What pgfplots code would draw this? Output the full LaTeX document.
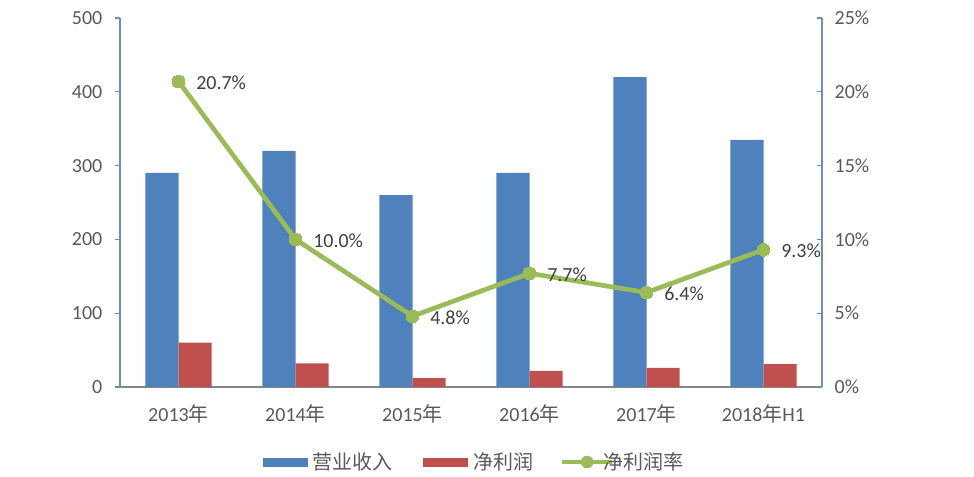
\documentclass[border=0pt]{standalone}
\usepackage{pgfplots}
\pgfplotsset{compat=1.18}
\usepackage{fontspec}
\setmainfont{Carlito}
\newfontfamily\cjk{Noto Sans CJK SC}
\definecolor{cblue}{HTML}{4F81BD}
\definecolor{cred}{HTML}{C0504D}
\definecolor{cgreen}{HTML}{9BBB59}
\definecolor{tickgray}{HTML}{595959}
\definecolor{labgray}{HTML}{404040}
\definecolor{axgray}{HTML}{868686}
\definecolor{axblue}{HTML}{6A8EC0}
\begin{document}
\begin{tikzpicture}
\useasboundingbox (0,0) rectangle (730.5pt,357.75pt);
\begin{axis}[
  at={(90pt,67.5pt)}, anchor=south west,
  scale only axis, width=526.5pt, height=276.75pt,
  xmin=-0.5, xmax=5.5, ymin=0, ymax=500,
  ytick={0,100,200,300,400,500},
  xtick={0,1,2,3,4,5},
  xticklabels={2013{\cjk 年},2014{\cjk 年},2015{\cjk 年},2016{\cjk 年},2017{\cjk 年},2018{\cjk 年}H1},
  axis x line*=bottom, axis y line*=left,
  axis line style={-},
  x axis line style={draw=axgray, line width=0.8pt},
  y axis line style={draw=axblue, line width=0.8pt},
  ytick style={draw=axblue, line width=0.8pt},
  xtick style={draw=none},
  tick align=outside, major tick length=3.75pt,
  ybar=0pt, bar width=24.75pt,
  font=\fontsize{15}{18}\selectfont,
  ticklabel style={text=tickgray, font=\fontsize{15}{18}\selectfont},
  /pgf/number format/assume math mode=true,
  xticklabel style={yshift=-6pt},
  yticklabel style={xshift=-6pt},
  clip=false,
]
\addplot[fill=cblue, draw=none] coordinates {(0,290) (1,320) (2,260) (3,290) (4,420) (5,335)};
\addplot[fill=cred, draw=none] coordinates {(0,60) (1,32) (2,12) (3,22) (4,26) (5,31)};
\end{axis}
\begin{axis}[
  at={(90pt,67.5pt)}, anchor=south west,
  scale only axis, width=526.5pt, height=276.75pt,
  xmin=-0.5, xmax=5.5, ymin=0, ymax=25,
  ytick={0,5,10,15,20,25},
  yticklabel={\pgfmathprintnumber{\tick}\%},
  axis x line=none, axis y line*=right,
  axis line style={-},
  y axis line style={draw=axblue, line width=0.8pt},
  ytick style={draw=axblue, line width=0.8pt},
  tick align=inside, major tick length=3.75pt,
  font=\fontsize{15}{18}\selectfont,
  ticklabel style={text=tickgray, font=\fontsize{15}{18}\selectfont},
  /pgf/number format/assume math mode=true,
  yticklabel style={xshift=6pt},
  clip=false,
  legend columns=3,
  legend style={draw=none, fill=none, at={(0.507,-0.2033)}, anchor=center,
    font=\fontsize{15}{18}\selectfont, text=tickgray,
    nodes={inner xsep=4pt}},
]
\addlegendimage{legend image code/.code={\fill[cblue] (0pt,-3pt) rectangle (33pt,3pt);}}
\addlegendentry{{\cjk 营业收入}\hspace*{19pt}}
\addlegendimage{legend image code/.code={\fill[cred] (0pt,-3pt) rectangle (33pt,3pt);}}
\addlegendentry{{\cjk 净利润}\hspace*{16pt}}
\addlegendimage{legend image code/.code={\draw[cgreen, line width=3.5pt] (0pt,0pt)--(37.5pt,0pt); \fill[cgreen] (18.75pt,0pt) circle (4.5pt);}}
\addlegendentry{\hspace*{-12pt}{\cjk 净利润率}}
\addplot[color=cgreen, line width=3.5pt, mark=*, mark size=4.8pt,
  mark options={fill=cgreen, draw=cgreen, line width=0pt},
  nodes near coords, point meta=explicit symbolic,
  nodes near coords style={anchor=west, xshift=10pt, yshift=-1pt, text=labgray, font=\fontsize{15}{18}\selectfont},
  forget plot]
  coordinates {(0,20.7)[20.7\%] (1,10.0)[10.0\%] (2,4.8)[4.8\%] (3,7.7)[7.7\%] (4,6.4)[6.4\%] (5,9.3)[9.3\%]};
\end{axis}
\end{tikzpicture}
\end{document}
